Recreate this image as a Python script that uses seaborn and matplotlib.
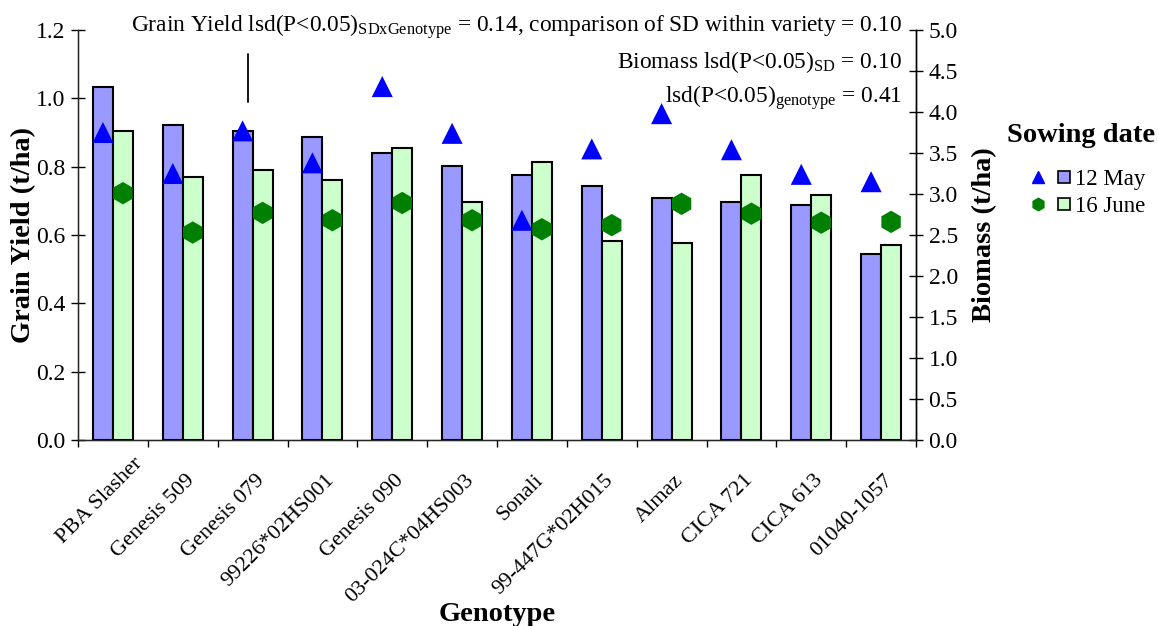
import seaborn as sns
import matplotlib.pyplot as plt
import matplotlib.transforms as mtransforms
from matplotlib.lines import Line2D
from matplotlib.legend_handler import HandlerTuple
import pandas as pd
import numpy as np

# data
genotypes = ["PBA Slasher", "Genesis 509", "Genesis 079", "99226*02HS001", "Genesis 090",
             "03-024C*04HS003", "Sonali", "99-447G*02H015", "Almaz", "CICA 721",
             "CICA 613", "01040-1057"]
sowing_dates = ["12 May", "16 June"]
yield_may = [1.034, 0.922, 0.903, 0.888, 0.840, 0.801, 0.776, 0.742, 0.708, 0.698, 0.689, 0.543]
yield_june = [0.903, 0.771, 0.791, 0.762, 0.854, 0.698, 0.815, 0.581, 0.577, 0.776, 0.718, 0.572]
biomass_may = [3.75, 3.25, 3.77, 3.38, 4.31, 3.74, 2.68, 3.55, 3.98, 3.54, 3.24, 3.15]
biomass_june = [3.01, 2.53, 2.77, 2.68, 2.89, 2.68, 2.57, 2.62, 2.88, 2.76, 2.65, 2.66]
lsd_yield = 0.14

sns.set_style("ticks")
plt.rcParams["font.family"] = ["Liberation Serif", "DejaVu Serif"]
plt.rcParams["mathtext.fontset"] = "custom"
plt.rcParams["mathtext.rm"] = "Liberation Serif"
plt.rcParams["mathtext.it"] = "Liberation Serif:italic"
plt.rcParams["mathtext.bf"] = "Liberation Serif:bold"
for k in ["text.color", "axes.labelcolor", "xtick.color", "ytick.color"]:
    plt.rcParams[k] = "black"

df = pd.DataFrame({
    "Genotype": genotypes * 2,
    "Sowing date": [sowing_dates[0]] * len(genotypes) + [sowing_dates[1]] * len(genotypes),
    "Yield": yield_may + yield_june,
})

W, H = 1158, 626
fig = plt.figure(figsize=(W / 100, H / 100), dpi=100)
ax = fig.add_axes([78 / W, 1 - 440 / H, 838 / W, 410 / H])

bar_cols = {"12 May": "#9999FF", "16 June": "#CCFFCC"}
sns.barplot(data=df, x="Genotype", y="Yield", hue="Sowing date", order=genotypes,
            hue_order=sowing_dates, palette=bar_cols, width=0.572, gap=0,
            saturation=1, edgecolor="black", linewidth=1.5, legend=False, ax=ax)

# lsd bar for grain yield
ax.plot([1.93, 1.93], [0.99, 0.99 + lsd_yield], color="black", lw=1.3)

ax.set_ylim(0, 1.2)
ax.set_xlim(-0.5, len(genotypes) - 0.5)
ax.set_yticks(np.arange(0, 1.21, 0.2))
ax.set_yticklabels([f"{v:.1f}" for v in np.arange(0, 1.21, 0.2)])
ax.tick_params(axis="y", direction="inout", length=10, width=1, labelsize=17, pad=4)

pos = np.arange(len(genotypes))
ax.set_xticks(np.arange(-0.5, len(genotypes), 1))
ax.set_xticklabels([])
ax.set_xticks(pos, minor=True)
ax.set_xticklabels(genotypes, minor=True, rotation=45, ha="right", va="center",
                   rotation_mode="anchor")
ax.tick_params(axis="x", which="major", direction="out", length=5, width=1)
ax.tick_params(axis="x", which="minor", length=0, labelsize=16, pad=27)
for i, lab in enumerate(ax.get_xticklabels(minor=True)):
    dx, dy = (0.27, 0.17) if i == 0 else (0.09, 0)
    lab.set_transform(lab.get_transform() +
                      mtransforms.ScaledTranslation(dx, dy, fig.dpi_scale_trans))

ax.set_xlabel("Genotype", fontsize=20.5, fontweight="bold", va="baseline")
ax.xaxis.set_label_coords(0.5, (440 - 621) / 410)
ax.set_ylabel("Grain Yield (t/ha)", fontsize=20.5, fontweight="bold", labelpad=0)
for s in ["left", "bottom", "right"]:
    ax.spines[s].set_color("black")
    ax.spines[s].set_linewidth(1)
ax.spines["top"].set_visible(False)

ax2 = ax.twinx()
sns.scatterplot(x=pos - 0.143, y=biomass_may, marker="^", s=230, color="#0000FF",
                edgecolor="none", ax=ax2, zorder=5)
sns.scatterplot(x=pos + 0.143, y=biomass_june, marker="h", s=260, color="#008000",
                edgecolor="none", ax=ax2, zorder=5)
ax2.set_xlim(-0.5, len(genotypes) - 0.5)
ax2.set_ylim(0, 5)
ax2.set_yticks(np.arange(0, 5.01, 0.5))
ax2.set_yticklabels([f"{v:.1f}" for v in np.arange(0, 5.01, 0.5)])
ax2.tick_params(axis="y", direction="inout", length=10, width=1, labelsize=17, pad=4)
ax2.set_ylabel("Biomass (t/ha)", fontsize=20.5, fontweight="bold", labelpad=10)
ax2.spines["top"].set_visible(False)
ax2.spines["right"].set_color("black")
ax2.spines["right"].set_linewidth(1)

# lsd annotations
fs = 16.8
fig.text(902 / W, 1 - 32 / H,
         r"Grain Yield lsd(P<0.05)$_{\mathrm{SDxGenotype}}$ = 0.14, comparison of SD within variety = 0.10",
         ha="right", va="baseline", fontsize=fs)
fig.text(902 / W, 1 - 68 / H, r"Biomass lsd(P<0.05)$_{\mathrm{SD}}$ = 0.10",
         ha="right", va="baseline", fontsize=fs)
fig.text(902 / W, 1 - 103 / H, r"lsd(P<0.05)$_{\mathrm{genotype}}$ = 0.41",
         ha="right", va="baseline", fontsize=fs)

# legend
fig.text(1007 / W, 1 - 135 / H, "Sowing date", ha="left", va="center",
         fontsize=20.5, fontweight="bold")
handles = [
    (Line2D([], [], marker="^", color="#0000FF", ls="none", markersize=9),
     Line2D([], [], marker="s", color="#9999FF", mec="black", mew=1.2, ls="none", markersize=8)),
    (Line2D([], [], marker="h", color="#008000", ls="none", markersize=9),
     Line2D([], [], marker="s", color="#CCFFCC", mec="black", mew=1.2, ls="none", markersize=8)),
]
fig.legend(handles, sowing_dates, handler_map={tuple: HandlerTuple(ndivide=None, pad=0.2)},
           loc="upper left", bbox_to_anchor=(1028 / W, 1 - 169 / H), frameon=False,
           fontsize=16.5, handlelength=2.0, handletextpad=0.05, labelspacing=0.28,
           borderpad=0, borderaxespad=0)

fig.savefig("out.png", dpi=100)
